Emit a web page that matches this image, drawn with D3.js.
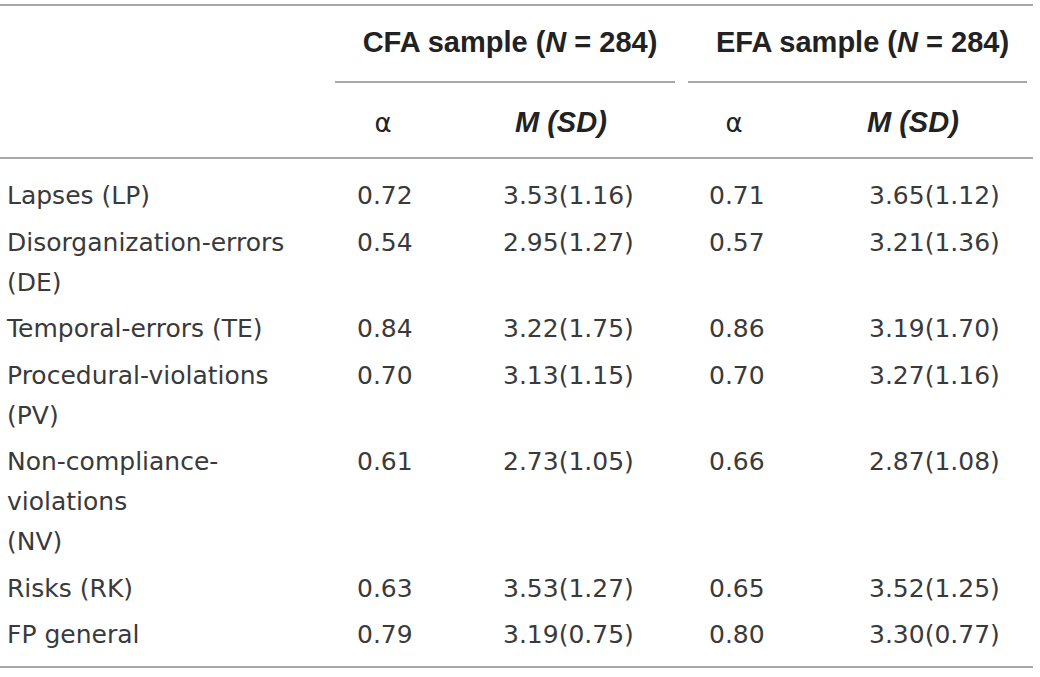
<!DOCTYPE html>
<html>
<head>
    <meta charset="utf-8">
    <title>FP scales reliability</title>
    <script src="https://d3js.org/d3.v7.min.js"></script>
    <style>
        body { margin: 0; background: #fff; }
        .body-text { font-family: "DejaVu Sans", sans-serif; font-size: 25px; fill: #3a3a3a; }
        .head-text { font-family: "Liberation Sans", Arial, sans-serif; font-size: 29px; font-weight: bold; fill: #222; }
        .rule { stroke: #8a8a8a; stroke-width: 1.5; }
    </style>
</head>
<body>
<script>
    // table content
    let labels = [
        ["Lapses (LP)"],
        ["Disorganization-errors", "(DE)"],
        ["Temporal-errors (TE)"],
        ["Procedural-violations", "(PV)"],
        ["Non-compliance-", "violations", "(NV)"],
        ["Risks (RK)"],
        ["FP general"]
    ];
    let cfaAlpha = ["0.72", "0.54", "0.84", "0.70", "0.61", "0.63", "0.79"];
    let cfaMean  = ["3.53", "2.95", "3.22", "3.13", "2.73", "3.53", "3.19"];
    let cfaSd    = ["1.16", "1.27", "1.75", "1.15", "1.05", "1.27", "0.75"];
    let efaAlpha = ["0.71", "0.57", "0.86", "0.70", "0.66", "0.65", "0.80"];
    let efaMean  = ["3.65", "3.21", "3.19", "3.27", "2.87", "3.52", "3.30"];
    let efaSd    = ["1.12", "1.36", "1.70", "1.16", "1.08", "1.25", "0.77"];
    let groups = [{name: "CFA", n: "284"}, {name: "EFA", n: "284"}];

    let W = 1040, H = 677;
    let svg = d3.select("body").append("svg").attr("width", W).attr("height", H);

    // column positions
    let cols = ["label", "cfaA", "cfaM", "efaA", "efaM"];
    let x = d3.scaleOrdinal().domain(cols).range([7, 357, 503, 709, 869]);

    // row baselines: 40px per wrapped line, 46.5px between rows
    let lineStep = 40, rowStep = 46.5;
    let rowY = [];
    let yy = 204;
    labels.forEach((l, i) => { rowY.push(yy); yy += (l.length - 1) * lineStep + rowStep; });
    let y = d3.scaleOrdinal().domain(d3.range(labels.length)).range(rowY);

    // rules
    svg.append("line").attr("class", "rule").attr("x1", 0).attr("x2", 1033).attr("y1", 5).attr("y2", 5);
    svg.append("line").attr("class", "rule").attr("x1", 0).attr("x2", 1033).attr("y1", 158).attr("y2", 158);
    svg.append("line").attr("class", "rule").attr("x1", 0).attr("x2", 1033).attr("y1", 667).attr("y2", 667);
    let under = [[335, 675], [688, 1027]];
    svg.selectAll("line.under").data(under).enter().append("line")
        .attr("class", "rule under")
        .attr("x1", d => d[0]).attr("x2", d => d[1])
        .attr("y1", 82).attr("y2", 82);

    // group headers
    let gh = svg.selectAll("text.group").data(groups).enter().append("text")
        .attr("class", "head-text group")
        .attr("x", (d, i) => (under[i][0] + under[i][1]) / 2 + 5)
        .attr("y", 52)
        .attr("text-anchor", "middle");
    gh.append("tspan").text(d => d.name + " sample (");
    gh.append("tspan").attr("font-style", "italic").text("N");
    gh.append("tspan").text(d => " = " + d.n + ")");

    // sub headers
    svg.selectAll("text.alpha").data(["cfaA", "efaA"]).enter().append("text")
        .attr("class", "head-text alpha")
        .attr("x", (d, i) => x(d) + 26 - i)
        .attr("y", 132)
        .attr("text-anchor", "middle")
        .style("font-weight", "normal")
        .style("font-family", "'DejaVu Sans', sans-serif")
        .style("font-size", "26px")
        .text("α");
    svg.selectAll("text.msd").data(["cfaM", "efaM"]).enter().append("text")
        .attr("class", "head-text msd")
        .attr("x", (d, i) => x(d) + (i === 0 ? 12 : -2))
        .attr("y", 132)
        .attr("font-style", "italic")
        .text("M (SD)");

    // row labels
    let lab = svg.selectAll("text.label").data(labels).enter().append("text")
        .attr("class", "body-text label")
        .attr("x", x("label"))
        .attr("y", (d, i) => y(i));
    lab.selectAll("tspan").data(d => d).enter().append("tspan")
        .attr("x", x("label"))
        .attr("dy", (d, j) => j === 0 ? 0 : lineStep)
        .text(d => d);

    // values
    let cells = [];
    labels.forEach((l, i) => {
        cells.push({col: "cfaA", row: i, t: cfaAlpha[i]});
        cells.push({col: "cfaM", row: i, t: cfaMean[i] + "(" + cfaSd[i] + ")"});
        cells.push({col: "efaA", row: i, t: efaAlpha[i]});
        cells.push({col: "efaM", row: i, t: efaMean[i] + "(" + efaSd[i] + ")"});
    });
    svg.selectAll("text.cell").data(cells).enter().append("text")
        .attr("class", "body-text cell")
        .attr("x", d => x(d.col))
        .attr("y", d => y(d.row))
        .text(d => d.t);
</script>
</body>
</html>
